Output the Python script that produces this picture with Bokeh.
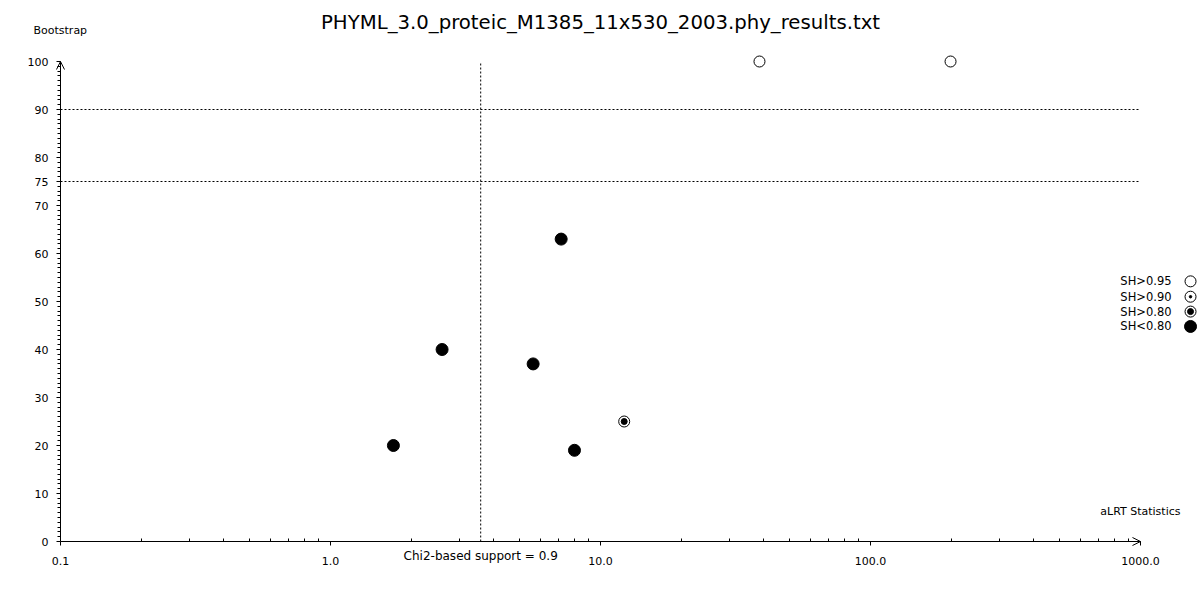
from bokeh.plotting import figure
from bokeh.models import (Range1d, FixedTicker, CustomJSTickFormatter, Label,
                          Arrow, OpenHead, ColumnDataSource)
from bokeh.core.properties import value
from bokeh.embed import file_html
from bokeh.resources import INLINE

# ---------------- data ----------------
title_text = "PHYML_3.0_proteic_M1385_11x530_2003.phy_results.txt"
alrt = [1.71, 2.59, 5.63, 7.15, 8.01, 12.24, 38.8, 197.9]
bootstrap = [20, 40, 37, 63, 19, 25, 100, 100]
sh_class = ["SH<0.80", "SH<0.80", "SH<0.80", "SH<0.80", "SH<0.80",
            "SH>0.80", "SH>0.95", "SH>0.95"]
bootstrap_thresholds = [90, 75]
chi2_threshold = 3.6
chi2_label = "Chi2-based support = 0.9"
legend_labels = ["SH>0.95", "SH>0.90", "SH>0.80", "SH<0.80"]
legend_y = [54.2, 51.0, 47.9, 44.8]
legend_x = 1532
x_major = [0.1, 1, 10, 100, 1000]
x_minor = [k * 10.0 ** e for e in range(-1, 3) for k in range(2, 10)]
y_major = [0, 10, 20, 30, 40, 50, 60, 70, 75, 80, 90, 100]
y_minor = [v for v in range(0, 101) if v not in y_major]
x_label = "aLRT Statistics"
y_label = "Bootstrap"

FONT = "DejaVu Sans"

# the frame covers the whole canvas; axes sit at fixed data locations
p = figure(width=1200, height=600, x_axis_type="log",
           x_range=Range1d(0.05995, 1668.1), y_range=Range1d(-12.29, 112.71),
           output_backend="svg", toolbar_location=None,
           min_border=0, min_border_left=0, min_border_right=0,
           min_border_top=0, min_border_bottom=0)
p.outline_line_color = None
p.background_fill_color = "white"
p.border_fill_color = "white"
p.xgrid.visible = False
p.ygrid.visible = False

xa = p.xaxis[0]
xa.fixed_location = 0
xa.ticker = FixedTicker(ticks=x_major, minor_ticks=x_minor)
xa.formatter = CustomJSTickFormatter(code="return tick.toFixed(1);")
xa.bounds = (0.1, 1000)
xa.major_tick_out = 4
xa.major_tick_in = 0
xa.minor_tick_in = 3
xa.minor_tick_out = 0
xa.major_label_standoff = 11

ya = p.yaxis[0]
ya.fixed_location = 0.1
ya.ticker = FixedTicker(ticks=y_major, minor_ticks=y_minor)
ya.bounds = (0, 100)
ya.major_tick_out = 4
ya.major_tick_in = 0
ya.minor_tick_in = 0
ya.minor_tick_out = 3
ya.major_label_standoff = 8

for ax in (xa, ya):
    ax.axis_line_color = "black"
    ax.major_tick_line_color = "black"
    ax.minor_tick_line_color = "black"
    ax.major_label_text_font = FONT
    ax.major_label_text_font_size = "11px"
    ax.major_label_text_color = "black"

# arrow heads at the axis ends
p.add_layout(Arrow(end=OpenHead(size=8, line_width=1, line_color="black"),
                   x_start=800, y_start=0, x_end=1000, y_end=0,
                   line_color="black", line_width=1))
p.add_layout(Arrow(end=OpenHead(size=8, line_width=1, line_color="black"),
                   x_start=0.1, y_start=96, x_end=0.1, y_end=100,
                   line_color="black", line_width=1))

# threshold lines
p.segment(x0=[0.1] * len(bootstrap_thresholds), y0=bootstrap_thresholds,
          x1=[1000] * len(bootstrap_thresholds), y1=bootstrap_thresholds,
          line_color="black", line_width=1, line_dash="2 2")
p.segment(x0=[chi2_threshold], y0=[0], x1=[chi2_threshold], y1=[100],
          line_color="black", line_width=1, line_dash="2 2")

# points by SH class
def draw(xs, ys, cls):
    if not xs:
        return
    src = ColumnDataSource(dict(x=xs, y=ys))
    if cls == "SH<0.80":
        p.scatter("x", "y", source=src, size=12, fill_color="black",
                  line_color="black")
    else:
        p.scatter("x", "y", source=src, size=11, fill_color="white",
                  line_color="black", line_width=1)
        if cls == "SH>0.80":
            p.scatter("x", "y", source=src, size=6, fill_color="black",
                      line_color="black")
        elif cls == "SH>0.90":
            p.scatter("x", "y", source=src, size=2.5, fill_color="black",
                      line_color="black")

for cls in legend_labels:
    xs = [a for a, c in zip(alrt, sh_class) if c == cls]
    ys = [b for b, c in zip(bootstrap, sh_class) if c == cls]
    draw(xs, ys, cls)

# legend (text left, symbol right)
for lab, ly in zip(legend_labels, legend_y):
    draw([legend_x], [ly], lab)
p.text(x=[legend_x] * len(legend_labels), y=legend_y, text=legend_labels,
       x_offset=-19, text_align="right", text_baseline="middle",
       text_font=value(FONT), text_font_size="11.5px", text_color="black")

# title, axis titles and chi2 label
p.add_layout(Label(x=10, y=100, y_offset=39, text=title_text,
                   text_font=FONT, text_font_size="19.7px", text_color="black",
                   text_align="center", text_baseline="middle"))
p.add_layout(Label(x=0.1, y=100, x_offset=-27, y_offset=31, text=y_label,
                   text_font=FONT, text_font_size="11px", text_color="black",
                   text_align="left", text_baseline="middle"))
p.add_layout(Label(x=1000, y=0, x_offset=40, y_offset=30, text=x_label,
                   text_font=FONT, text_font_size="11px", text_color="black",
                   text_align="right", text_baseline="middle"))
p.add_layout(Label(x=chi2_threshold, y=0, y_offset=-14, text=chi2_label,
                   text_font=FONT, text_font_size="12px", text_color="black",
                   text_align="center", text_baseline="middle"))

open("out.html", "w").write(file_html(p, INLINE))
